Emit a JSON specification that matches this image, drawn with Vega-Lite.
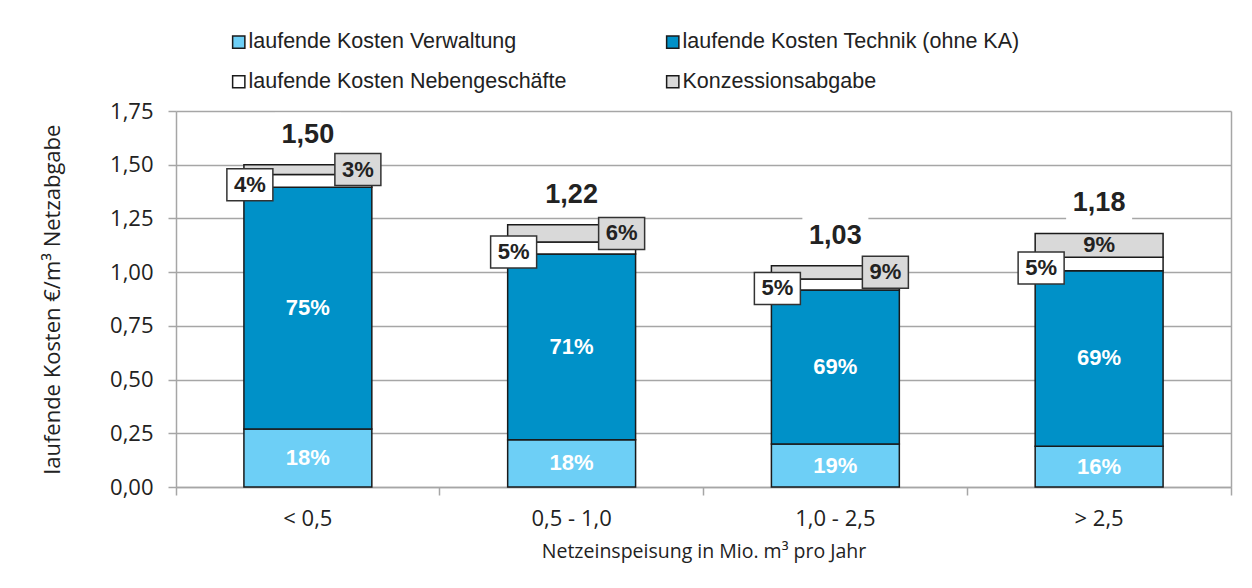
{
  "$schema": "https://vega.github.io/schema/vega-lite/v6.json",
  "width": 1055,
  "height": 376,
  "autosize": {"type": "none"},
  "padding": {"left": 176, "top": 111, "right": 21, "bottom": 101},
  "background": "white",
  "config": {
    "locale": {"number": {"decimal": ",", "thousands": ".", "grouping": [3], "currency": ["", " €"]}},
    "view": {"stroke": null},
    "legend": {
      "orient": "none", "legendX": 52, "legendY": -80, "columns": 2, "direction": "horizontal",
      "symbolType": "square", "symbolSize": 150, "symbolStrokeColor": "#1a1a1a", "symbolStrokeWidth": 1.5,
      "labelFont": "Liberation Sans", "labelFontSize": 21.5, "labelColor": "#222222", "labelOffset": -1,
      "columnPadding": 95, "rowPadding": 17, "labelLimit": 0
    }
  },
  "resolve": {"axis": {"y": "independent"}},
  "datasets": {
    "segs": [
      {"cat": "< 0,5", "seg": "laufende Kosten Verwaltung", "ord": 1, "value": 0.27, "pct": "18%"},
      {"cat": "< 0,5", "seg": "laufende Kosten Technik (ohne KA)", "ord": 2, "value": 1.125, "pct": "75%"},
      {"cat": "< 0,5", "seg": "laufende Kosten Nebengeschäfte", "ord": 3, "value": 0.06, "pct": "4%"},
      {"cat": "< 0,5", "seg": "Konzessionsabgabe", "ord": 4, "value": 0.045, "pct": "3%"},
      {"cat": "0,5 - 1,0", "seg": "laufende Kosten Verwaltung", "ord": 1, "value": 0.22, "pct": "18%"},
      {"cat": "0,5 - 1,0", "seg": "laufende Kosten Technik (ohne KA)", "ord": 2, "value": 0.865, "pct": "71%"},
      {"cat": "0,5 - 1,0", "seg": "laufende Kosten Nebengeschäfte", "ord": 3, "value": 0.055, "pct": "5%"},
      {"cat": "0,5 - 1,0", "seg": "Konzessionsabgabe", "ord": 4, "value": 0.08, "pct": "6%"},
      {"cat": "1,0 - 2,5", "seg": "laufende Kosten Verwaltung", "ord": 1, "value": 0.2, "pct": "19%"},
      {"cat": "1,0 - 2,5", "seg": "laufende Kosten Technik (ohne KA)", "ord": 2, "value": 0.717, "pct": "69%"},
      {"cat": "1,0 - 2,5", "seg": "laufende Kosten Nebengeschäfte", "ord": 3, "value": 0.051, "pct": "5%"},
      {"cat": "1,0 - 2,5", "seg": "Konzessionsabgabe", "ord": 4, "value": 0.062, "pct": "9%"},
      {"cat": "> 2,5", "seg": "laufende Kosten Verwaltung", "ord": 1, "value": 0.19, "pct": "16%"},
      {"cat": "> 2,5", "seg": "laufende Kosten Technik (ohne KA)", "ord": 2, "value": 0.817, "pct": "69%"},
      {"cat": "> 2,5", "seg": "laufende Kosten Nebengeschäfte", "ord": 3, "value": 0.062, "pct": "5%"},
      {"cat": "> 2,5", "seg": "Konzessionsabgabe", "ord": 4, "value": 0.111, "pct": "9%"}
    ],
    "totals": [
      {"cat": "< 0,5", "value": 1.50},
      {"cat": "0,5 - 1,0", "value": 1.22},
      {"cat": "1,0 - 2,5", "value": 1.03},
      {"cat": "> 2,5", "value": 1.18}
    ]
  },
  "encoding": {
    "x": {
      "field": "cat", "type": "nominal",
      "sort": ["< 0,5", "0,5 - 1,0", "1,0 - 2,5", "> 2,5"],
      "scale": {"paddingInner": 0, "paddingOuter": 0},
      "axis": {
        "title": "Netzeinspeisung in Mio. m³ pro Jahr", "labelAngle": 0,
        "bandPosition": 1, "tickExtra": true, "grid": false,
        "domainColor": "#a6a6a6", "domainWidth": 1.5, "tickColor": "#a6a6a6", "tickWidth": 1.5, "tickSize": 8,
        "labelFont": "Open Sans", "labelFontSize": 22, "labelColor": "#222222", "labelPadding": 13,
        "titleFont": "Open Sans", "titleFontSize": 19.5, "titleFontWeight": "normal", "titleColor": "#222222", "titlePadding": 13
      }
    }
  },
  "layer": [
    {
      "data": {"name": "segs"},
      "mark": {"type": "bar", "stroke": "#1a1a1a", "strokeWidth": 1.5, "width": {"band": 0.485}},
      "encoding": {
        "y": {
          "field": "value", "type": "quantitative", "stack": "zero",
          "scale": {"domain": [0, 1.75], "nice": false},
          "axis": {
            "title": "laufende Kosten €/m³ Netzabgabe", "values": [0, 0.25, 0.5, 0.75, 1, 1.25, 1.5, 1.75], "format": ".2f",
            "grid": true, "gridColor": "#a6a6a6", "gridWidth": 1.5,
            "domainColor": "#a6a6a6", "domainWidth": 1.5, "tickColor": "#a6a6a6", "tickWidth": 1.5, "tickSize": 8,
            "labelFont": "Open Sans", "labelFontSize": 22, "labelColor": "#222222", "labelPadding": 15,
            "titleFont": "Open Sans", "titleFontSize": 22, "titleFontWeight": "normal", "titleColor": "#222222", "titlePadding": 45
          }
        },
        "color": {
          "field": "seg", "type": "nominal",
          "scale": {
            "domain": ["laufende Kosten Verwaltung", "laufende Kosten Technik (ohne KA)", "laufende Kosten Nebengeschäfte", "Konzessionsabgabe"],
            "range": ["#6dcff6", "#0091c8", "#ffffff", "#d9d9d9"]
          },
          "legend": {"title": null}
        },
        "order": {"field": "ord", "type": "quantitative"}
      }
    },
    {
      "data": {"name": "totals"},
      "mark": {"type": "tick", "color": "white", "opacity": 1, "size": 66, "thickness": 44, "yOffset": -30},
      "encoding": {
        "y": {
          "field": "value", "type": "quantitative", "scale": {"domain": [0, 1.75], "nice": false},
          "axis": {"orient": "right", "title": null, "labels": false, "ticks": false, "grid": false, "domain": true, "domainColor": "#a6a6a6", "domainWidth": 1.5}
        }
      }
    },
    {
      "data": {"name": "segs"},
      "mark": {"type": "text", "font": "Liberation Sans", "fontWeight": "bold", "fontSize": 22, "baseline": "middle", "align": "center"},
      "encoding": {
        "y": {"field": "value", "type": "quantitative", "stack": "zero", "bandPosition": 0.5, "scale": {"domain": [0, 1.75], "nice": false}, "axis": null},
        "detail": {"field": "seg"},
        "order": {"field": "ord", "type": "quantitative"},
        "text": {"field": "pct"},
        "color": {"condition": {"test": "datum.ord == 4", "value": "#222222"}, "value": "#ffffff"},
        "opacity": {"condition": {"test": "datum.ord <= 2 || (datum.ord == 4 && datum.cat == '> 2,5')", "value": 1}, "value": 0}
      }
    },
    {
      "data": {"name": "segs"},
      "mark": {"type": "tick", "color": "#ffffff", "stroke": "#333333", "strokeWidth": 1.5, "size": 46, "thickness": 32, "xOffset": -58, "yOffset": 4},
      "encoding": {
        "y": {"field": "value", "type": "quantitative", "stack": "zero", "bandPosition": 0.5, "scale": {"domain": [0, 1.75], "nice": false}, "axis": null},
        "detail": {"field": "seg"},
        "order": {"field": "ord", "type": "quantitative"},
        "opacity": {"condition": {"test": "datum.ord == 3", "value": 1}, "value": 0}
      }
    },
    {
      "data": {"name": "segs"},
      "mark": {"type": "text", "font": "Liberation Sans", "fontWeight": "bold", "fontSize": 22, "baseline": "middle", "align": "center", "color": "#222222", "xOffset": -58, "yOffset": 4},
      "encoding": {
        "y": {"field": "value", "type": "quantitative", "stack": "zero", "bandPosition": 0.5, "scale": {"domain": [0, 1.75], "nice": false}, "axis": null},
        "detail": {"field": "seg"},
        "order": {"field": "ord", "type": "quantitative"},
        "text": {"field": "pct"},
        "opacity": {"condition": {"test": "datum.ord == 3", "value": 1}, "value": 0}
      }
    },
    {
      "data": {"name": "segs"},
      "mark": {"type": "tick", "color": "#d9d9d9", "stroke": "#333333", "strokeWidth": 1.5, "size": 46, "thickness": 32, "xOffset": 50},
      "encoding": {
        "y": {"field": "value", "type": "quantitative", "stack": "zero", "bandPosition": 0.5, "scale": {"domain": [0, 1.75], "nice": false}, "axis": null},
        "detail": {"field": "seg"},
        "order": {"field": "ord", "type": "quantitative"},
        "opacity": {"condition": {"test": "datum.ord == 4 && datum.cat != '> 2,5'", "value": 1}, "value": 0}
      }
    },
    {
      "data": {"name": "segs"},
      "mark": {"type": "text", "font": "Liberation Sans", "fontWeight": "bold", "fontSize": 22, "baseline": "middle", "align": "center", "color": "#222222", "xOffset": 50},
      "encoding": {
        "y": {"field": "value", "type": "quantitative", "stack": "zero", "bandPosition": 0.5, "scale": {"domain": [0, 1.75], "nice": false}, "axis": null},
        "detail": {"field": "seg"},
        "order": {"field": "ord", "type": "quantitative"},
        "text": {"field": "pct"},
        "opacity": {"condition": {"test": "datum.ord == 4 && datum.cat != '> 2,5'", "value": 1}, "value": 0}
      }
    },
    {
      "data": {"name": "totals"},
      "mark": {"type": "text", "font": "Liberation Sans", "fontWeight": "bold", "fontSize": 27, "baseline": "middle", "align": "center", "color": "#222222", "dy": -30},
      "encoding": {
        "y": {"field": "value", "type": "quantitative", "scale": {"domain": [0, 1.75], "nice": false}, "axis": null},
        "text": {"field": "value", "type": "quantitative", "format": ".2f"}
      }
    }
  ]
}
